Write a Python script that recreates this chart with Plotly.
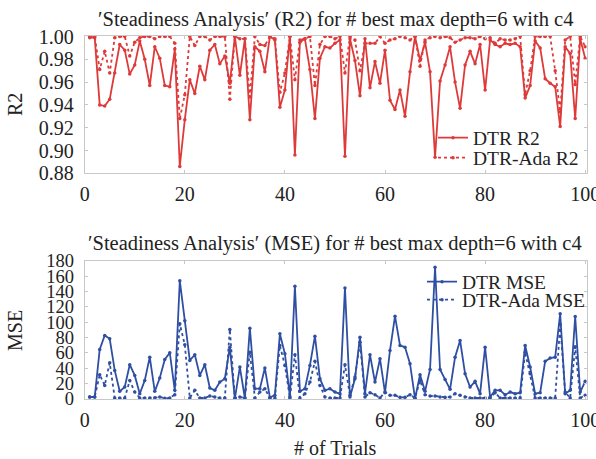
import plotly.graph_objects as go

trials = list(range(1, 101))

r2_dtr = [0.999, 0.999, 0.940, 0.939, 0.945, 0.968, 0.993, 0.988, 0.967, 0.975,
          0.996, 0.980, 0.957, 0.991, 0.981, 0.957, 0.956, 0.989, 0.886, 0.927,
          0.962, 0.950, 0.974, 0.962, 0.988, 0.993, 0.976, 0.983, 0.959, 1.000,
          0.966, 0.998, 0.927, 0.991, 0.987, 0.969, 1.000, 0.997, 0.938, 0.953,
          1.000, 0.896, 0.995, 0.998, 0.971, 0.928, 0.981, 0.991, 0.990, 0.994,
          0.997, 0.895, 0.998, 0.979, 0.948, 0.998, 0.955, 0.978, 0.959, 0.988,
          0.944, 0.936, 0.953, 0.930, 0.969, 1.000, 0.979, 0.995, 0.969, 0.894,
          0.961, 0.975, 0.991, 0.960, 0.937, 0.975, 0.987, 0.976, 0.993, 0.953,
          0.997, 0.993, 0.991, 0.994, 0.993, 0.994, 0.991, 0.946, 0.957, 0.996,
          0.990, 0.963, 0.959, 0.956, 0.921, 0.991, 0.985, 0.928, 0.998, 0.981]

r2_ada = [1.000, 1.000, 0.971, 0.987, 0.968, 0.999, 1.000, 1.000, 0.983, 0.995,
          0.999, 1.000, 1.000, 0.998, 1.000, 1.000, 1.000, 0.994, 0.928, 0.949,
          1.000, 0.992, 1.000, 1.000, 0.997, 1.000, 1.000, 1.000, 0.945, 1.000,
          0.998, 0.998, 0.947, 1.000, 0.993, 0.992, 1.000, 0.998, 0.951, 0.968,
          1.000, 0.962, 0.997, 0.998, 1.000, 0.957, 0.993, 1.000, 1.000, 0.998,
          1.000, 0.968, 1.000, 0.997, 0.970, 0.994, 0.994, 0.994, 1.000, 0.994,
          0.997, 0.998, 1.000, 0.999, 0.997, 1.000, 0.974, 0.997, 0.999, 1.000,
          0.999, 1.000, 0.999, 0.995, 0.997, 0.999, 0.999, 0.998, 1.000, 0.998,
          0.999, 0.994, 0.998, 0.997, 0.997, 0.998, 1.000, 0.949, 0.970, 1.000,
          1.000, 1.000, 1.000, 0.970, 0.934, 0.997, 1.000, 0.958, 1.000, 0.991]

mse_dtr = [2.6, 2.6, 64.5, 82.7, 78.4, 37.2, 10, 15.6, 44.6, 30.7,
           6.9, 24.2, 54.5, 10, 27.3, 51.5, 60.2, 11.3, 154, 102,
           50.2, 57.6, 30.7, 44.6, 14.3, 11.3, 22, 26.4, 67.5, 0.4,
           41.6, 1.3, 92.2, 13.4, 13.4, 40.3, 2, 5, 84.8, 58.9,
           3, 146.8, 10, 13.4, 43.7, 81.8, 26.4, 11.3, 13.4, 9,
           6.9, 144.6, 2.6, 26.4, 80.5, 6.9, 57.6, 22, 52.4, 8.2,
           63.2, 107.8, 69.7, 67.5, 45.9, 0.4, 31.6, 10, 38.5, 171.4,
           38.5, 25.5, 12.6, 54.5, 76.2, 32.9, 15.6, 23, 6.9, 67.5,
           2.6, 11.3, 11.3, 5.6, 9, 6.9, 8.2, 69.7, 41.6, 6.9,
           8.2, 49, 53.2, 54.5, 110.8, 6.9, 11.3, 107.4, 9, 23]

mse_ada = [2.6, 2.6, 31.6, 17.7, 47.2, 1.3, 1.3, 1.3, 24.2, 9,
           1.3, 1.3, 1.3, 1.7, 2.6, 0.9, 1.3, 5.6, 97.8, 70.6,
           1.3, 11.3, 1.3, 1.3, 3.9, 2.6, 1.3, 1.3, 90.5, 1.3,
           2.6, 1.3, 61, 1.3, 9, 13.4, 1.3, 1.3, 69.7, 43.7,
           1.3, 57.6, 1.3, 6.9, 22, 49, 17.7, 2.6, 1.3, 1.3,
           1.3, 44.6, 4.8, 28.6, 74, 2.6, 8.2, 5.6, 1.3, 9,
           4.8, 4.8, 2.2, 2.2, 5.6, 1.3, 24.2, 5.6, 3.9, 3.9,
           2.6, 2.2, 2.6, 6.9, 4.8, 2.6, 1.3, 1.3, 1.3, 1.3,
           1.3, 8.2, 1.3, 1.3, 1.3, 1.3, 1.3, 61, 32.9, 1.3,
           1.3, 1.3, 1.3, 1.3, 97, 9, 1.3, 68, 1.3, 4.8]

x_ticks = [0, 20, 40, 60, 80, 100]
r2_ticks = [0.88, 0.90, 0.92, 0.94, 0.96, 0.98, 1.00]
mse_ticks = [0, 20, 40, 60, 80, 100, 120, 140, 160, 180]

title_top = "′Steadiness Analysis′ (R2) for # best max depth=6 with c4"
title_bot = "′Steadiness Analysis′ (MSE) for # best max depth=6 with c4"

RED = "#de3a3a"
BLUE = "#2f4fa3"
FONT = "Liberation Serif"
TXT = "#222"
W, H = 596, 459


def px_x(p):
    return p / W


def px_y(p):
    return 1 - p / H


fig = go.Figure()


def add(x, y, name, color, dash, xa, ya, legend):
    fig.add_trace(go.Scatter(
        x=x, y=y, name=name, mode="lines+markers",
        line=dict(color=color, width=1.8, dash=dash),
        marker=dict(color=color, size=3.5),
        xaxis=xa, yaxis=ya, legend=legend, cliponaxis=True))


add(trials, r2_dtr, "DTR R2", RED, "solid", "x", "y", "legend")
add(trials, r2_ada, "DTR-Ada R2", RED, "dot", "x", "y", "legend2")
add(trials, mse_dtr, "DTR MSE", BLUE, "solid", "x2", "y2", "legend3")
add(trials, mse_ada, "DTR-Ada MSE", BLUE, "dot", "x2", "y2", "legend4")

axis_common = dict(showgrid=False, zeroline=False, showline=True, linecolor="#c8c8c8",
                   linewidth=1, mirror="ticks", ticks="inside", ticklen=3, automargin=False,
                   ticklabeloverflow="allow", tickcolor="#c8c8c8")


def tf(size):
    return dict(family=FONT, size=size, color=TXT)


def leg(xp, yp):
    return dict(x=px_x(xp), y=px_y(yp), xanchor="left", yanchor="middle",
                bgcolor="rgba(0,0,0,0)", borderwidth=0,
                font=dict(family=FONT, size=19.5, color=TXT), itemwidth=30)


fig.update_layout(
    template="none",
    width=W, height=H, margin=dict(l=0, r=0, t=0, b=0, autoexpand=False),
    paper_bgcolor="white", plot_bgcolor="white",
    font=dict(family=FONT, color=TXT),
    xaxis=dict(domain=[px_x(84.7), px_x(586.7)], anchor="y", range=[0, 100.3],
               tickvals=x_ticks, ticklabelstandoff=3, tickfont=tf(20), **axis_common),
    yaxis=dict(domain=[px_y(173.3), px_y(35.7)], anchor="x", range=[0.88, 1.0007],
               tickvals=r2_ticks, tickformat=".2f", ticklabelstandoff=6, tickfont=tf(20),
               **axis_common),
    xaxis2=dict(domain=[px_x(84.7), px_x(586.7)], anchor="y2", range=[0, 100.3],
                tickvals=x_ticks, ticklabelstandoff=3, tickfont=tf(20), **axis_common),
    yaxis2=dict(domain=[px_y(399), px_y(260.7)], anchor="x2", range=[0, 180],
                tickvals=mse_ticks, ticklabelstandoff=6, tickfont=tf(18.5), **axis_common),
    legend=leg(433, 138),
    legend2=leg(433, 158),
    legend3=leg(422, 282),
    legend4=leg(422, 300),
    showlegend=True,
)


def ann(text, xp, yp, size, angle=0):
    return dict(text=text, x=px_x(xp), y=px_y(yp), xref="paper", yref="paper",
                xanchor="center", yanchor="middle", textangle=angle,
                showarrow=False, font=dict(family=FONT, size=size, color=TXT))


fig.update_layout(annotations=[
    ann(title_top, 335, 19, 20.5),
    ann(title_bot, 335, 243, 20.5),
    ann("R2", 15, 104, 20, -90),
    ann("MSE", 15, 330, 20, -90),
    ann("# of Trials", 335, 448, 20),
])

fig.write_html("out.html")
